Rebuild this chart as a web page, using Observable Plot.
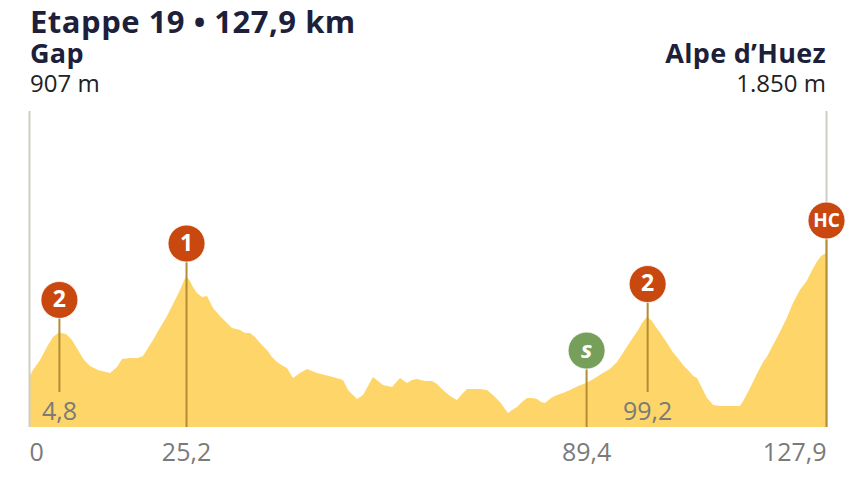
<!DOCTYPE html>
<html>
<head>
<meta charset="utf-8">
<script src="https://cdn.jsdelivr.net/npm/d3@7"></script>
<script src="https://cdn.jsdelivr.net/npm/@observablehq/plot@0.6"></script>
<style>
  html, body { margin: 0; padding: 0; background: #fff; }
  #wrap { position: relative; width: 854px; height: 480px; font-family: "Open Sans", sans-serif; overflow: hidden; }
  #head { position: relative; height: 100px; }
  .t { position: absolute; white-space: nowrap; line-height: 1; color: #1d1f3b; }
  #title { left: 30px; top: 6px; font-size: 31px; font-weight: 700; letter-spacing: 0.5px; }
  #from { left: 30px; top: 39px; font-size: 27px; font-weight: 700; letter-spacing: 0.3px; }
  #fromEle { left: 30px; top: 71px; font-size: 24px; font-weight: 400; color: #222; }
  #to { right: 28px; top: 39px; font-size: 27px; font-weight: 700; letter-spacing: 0.3px; }
  #toEle { right: 28px; top: 71px; font-size: 24px; font-weight: 400; color: #222; }
  #chart svg { display: block; }
</style>
</head>
<body>
<div id="wrap">
  <div id="head">
    <div class="t" id="title"></div>
    <div class="t" id="from"></div>
    <div class="t" id="fromEle"></div>
    <div class="t" id="to"></div>
    <div class="t" id="toEle"></div>
  </div>
  <div id="chart"></div>
</div>
<script>
// ---- data ----
const titleText = "Etappe 19 • 127,9 km";
const startName = "Gap";
const startEle = "907 m";
const finishName = "Alpe d’Huez";
const finishEle = "1.850 m";

// elevation profile (km, metres)
const profileKm = [0, 0.64, 1.77, 3.05, 3.85, 4.8, 5.94, 6.9, 7.86, 8.83, 9.79, 11.07, 13.0, 14.12, 14.92, 16.2, 17.49, 18.29, 19.9, 21.0, 22.15, 23.43, 24.23, 25.2, 25.84, 26.3, 26.96, 27.76, 28.56, 29.53, 30.65, 31.61, 32.58, 33.86, 34.66, 35.47, 36.27, 37.23, 38.19, 39.0, 39.8, 40.76, 41.4, 42.37, 43.49, 44.61, 46.22, 48.78, 50.39, 51.19, 52.64, 53.6, 54.4, 55.2, 56.0, 56.8, 58.25, 59.54, 60.2, 60.66, 61.46, 62.26, 63.55, 64.67, 65.47, 66.44, 67.56, 68.68, 69.49, 70.29, 72.38, 73.5, 74.62, 75.58, 76.39, 76.87, 77.51, 78.31, 79.11, 79.92, 80.72, 81.52, 82.16, 82.8, 83.77, 84.73, 85.7, 86.82, 88.1, 89.4, 90.84, 92.1, 93.2, 94.37, 95.3, 96.45, 97.74, 98.5, 99.2, 99.98, 100.6, 101.3, 102.4, 103.3, 104.1, 104.95, 105.75, 106.6, 107.2, 108.0, 108.8, 109.8, 110.9, 114.1, 114.7, 115.7, 116.8, 117.8, 118.4, 119.4, 120.5, 121.6, 122.6, 123.7, 124.8, 125.6, 126.4, 127.1, 127.9];
const profileEle = [907, 960, 1036, 1150, 1211, 1246, 1234, 1188, 1112, 1036, 991, 960, 937, 983, 1044, 1051, 1051, 1067, 1188, 1280, 1371, 1493, 1569, 1675, 1637, 1591, 1546, 1515, 1523, 1432, 1371, 1325, 1280, 1264, 1242, 1242, 1211, 1158, 1112, 1059, 1021, 991, 975, 899, 937, 968, 937, 907, 884, 808, 740, 770, 839, 907, 877, 846, 831, 899, 877, 861, 884, 892, 877, 877, 854, 808, 763, 732, 778, 816, 816, 808, 763, 717, 664, 633, 656, 679, 717, 747, 747, 740, 717, 709, 747, 770, 785, 808, 839, 861, 899, 937, 968, 1021, 1089, 1173, 1264, 1325, 1367, 1333, 1287, 1242, 1166, 1097, 1051, 998, 960, 914, 899, 823, 747, 694, 686, 686, 732, 823, 930, 1021, 1059, 1150, 1249, 1356, 1470, 1569, 1637, 1713, 1782, 1827, 1850];

// climbs / sprint
const climbKm = [4.8, 25.2, 89.4, 99.2, 127.9];
const climbEle = [1246, 1675, 861, 1367, 1850];
const climbCat = ["2", "1", "S", "2", "HC"];
const climbKmLabel = ["4,8", "25,2", "89,4", "99,2", "127,9"];
const climbLabelInside = [true, false, false, true, false];

// axis tick labels
const tickKm = [0, 25.2, 89.4, 127.9];
const tickLabels = ["0", "25,2", "89,4", "127,9"];

// ---- build ----
document.getElementById("title").textContent = titleText;
document.getElementById("from").textContent = startName;
document.getElementById("fromEle").textContent = startEle;
document.getElementById("to").textContent = finishName;
document.getElementById("toEle").textContent = finishEle;

const yMin = 527, yMax = 2930, xMax = 127.9;
const profile = profileKm.map((k, i) => ({km: k, ele: profileEle[i]}));
const climbs = climbKm.map((k, i) => ({km: k, ele: climbEle[i], cat: climbCat[i], label: climbKmLabel[i], inside: climbLabelInside[i]}));
const ticks = tickKm.map((k, i) => ({km: k, label: tickLabels[i]}));

const red = "#c9480f", green = "#76a05a", stem = "#b38c34", gray = "#cfcdc4", fill = "#fdd568";
const off = -33;

const chart = Plot.plot({
  width: 854,
  height: 380,
  marginLeft: 29,
  marginRight: 28,
  marginTop: 11,
  marginBottom: 53,
  x: {domain: [0, xMax], axis: null},
  y: {domain: [yMin, yMax], axis: null},
  style: {fontFamily: "'Open Sans', sans-serif", background: "#fff"},
  marks: [
    Plot.areaY(profile, {x: "km", y1: yMin, y2: "ele", fill: fill, curve: "linear"}),
    Plot.ruleX([0, xMax], {y1: yMin, y2: yMax, stroke: gray, strokeWidth: 2}),
    Plot.ruleX(climbs.filter(d => !d.inside), {x: "km", y1: "ele", y2: yMin, insetTop: off, stroke: stem, strokeWidth: 2}),
    Plot.ruleX(climbs.filter(d => d.inside), {x: "km", y1: "ele", y2: yMin, insetTop: off, insetBottom: 35, stroke: stem, strokeWidth: 2}),
    Plot.dot(climbs, {x: "km", y: "ele", dy: off, r: 18.5, fill: d => d.cat === "S" ? green : red, stroke: "#fff", strokeWidth: 0.8}),
    Plot.text(climbs.filter(d => d.cat !== "S"), {x: "km", y: "ele", dy: off, text: "cat", fill: "#fff", fontWeight: 700, fontSize: d => d.cat.length > 1 ? 19 : 23}),
    Plot.text(climbs.filter(d => d.cat === "S"), {x: "km", y: "ele", dy: off, text: d => "s", fill: "#fff", fontWeight: 700, fontStyle: "italic", fontSize: 24}),
    Plot.text(climbs.filter(d => d.inside), {x: "km", y: yMin, dy: -16, text: "label", fill: "#7a7a7a", fontSize: 25}),
    Plot.text(ticks.slice(0, 1), {x: "km", y: yMin, dy: 25, text: "label", fill: "#7a7a7a", fontSize: 25, textAnchor: "start"}),
    Plot.text(ticks.slice(1, -1), {x: "km", y: yMin, dy: 25, text: "label", fill: "#7a7a7a", fontSize: 25}),
    Plot.text(ticks.slice(-1), {x: "km", y: yMin, dy: 25, text: "label", fill: "#7a7a7a", fontSize: 25, textAnchor: "end"})
  ]
});
document.getElementById("chart").appendChild(chart);
</script>
</body>
</html>
